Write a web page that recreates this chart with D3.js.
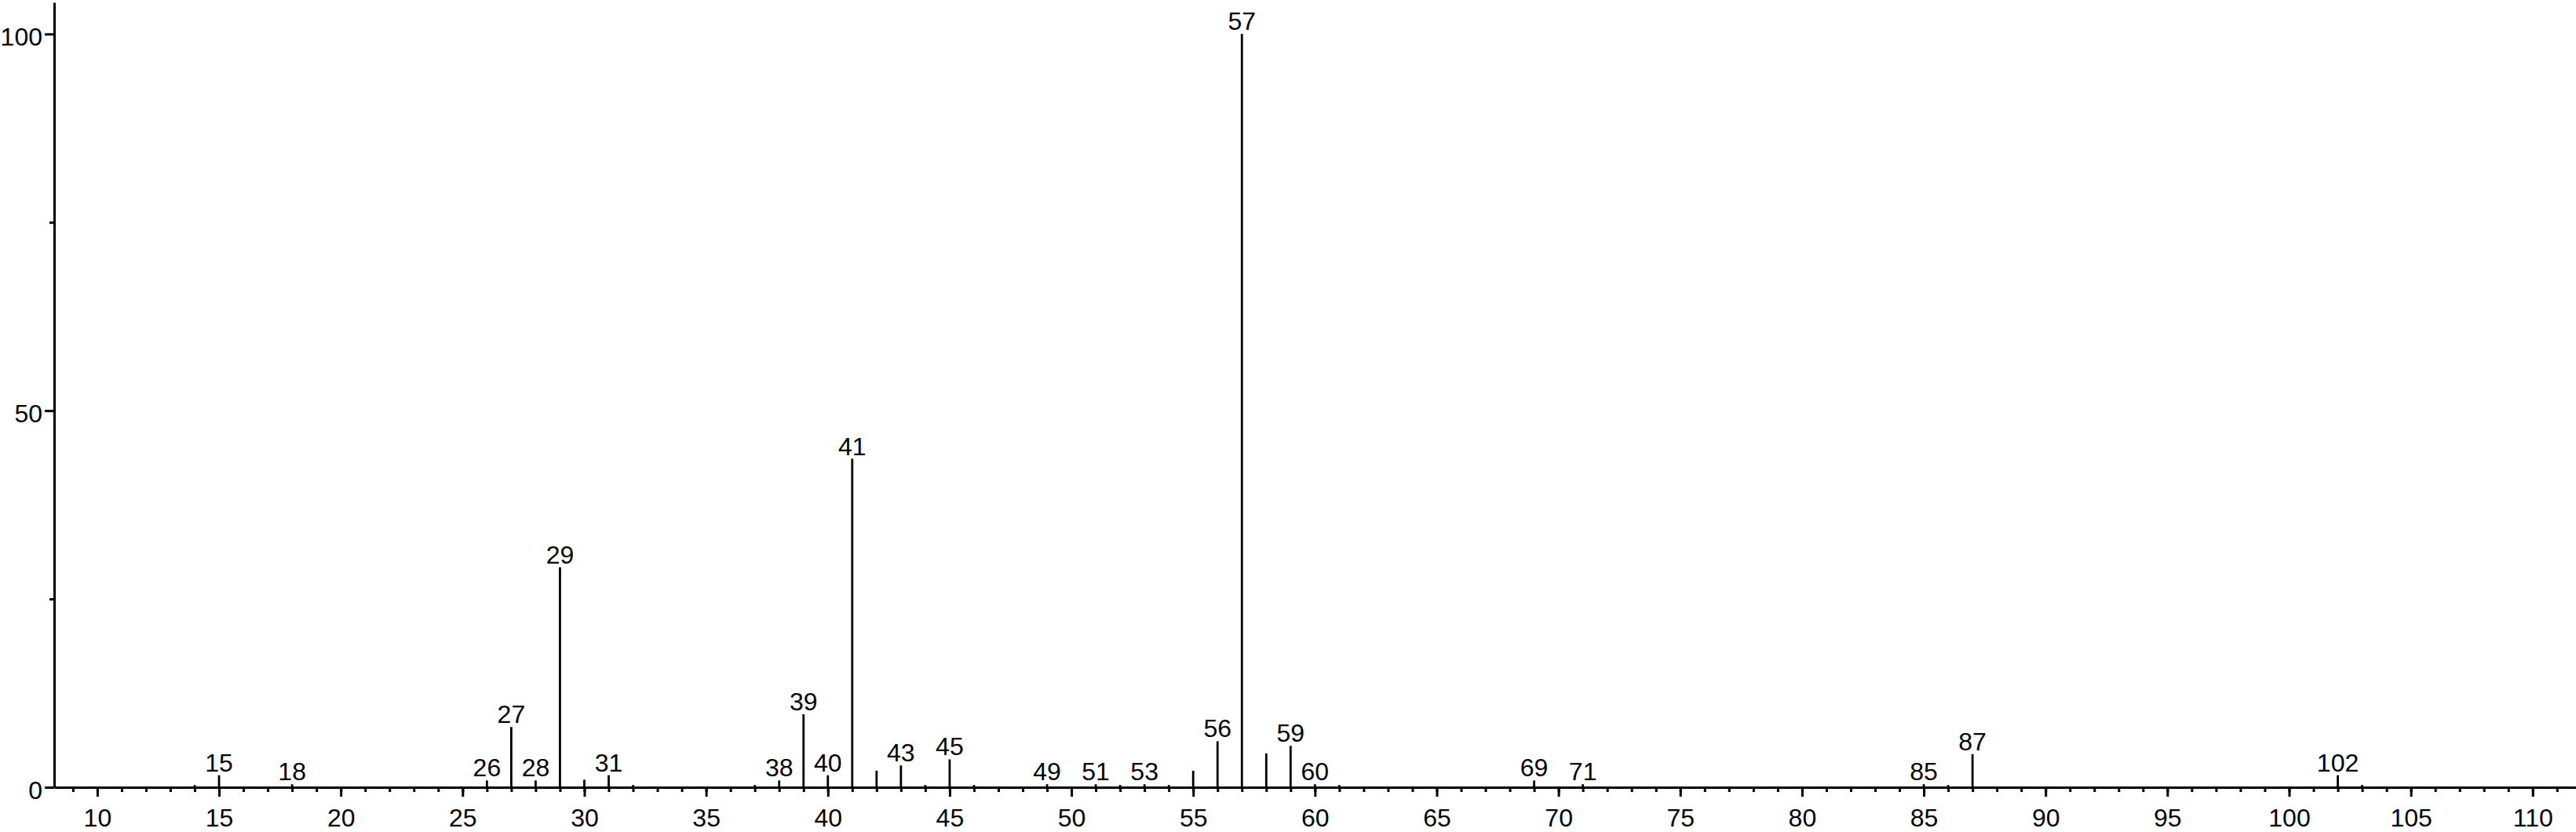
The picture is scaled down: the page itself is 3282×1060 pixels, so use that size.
<!DOCTYPE html>
<html>
<head>
<meta charset="utf-8">
<script src="https://cdn.jsdelivr.net/npm/d3@7"></script>
<style>
  html, body { margin: 0; padding: 0; background: #fff; }
  svg { display: block; }
  text { font-family: "Liberation Sans", Arial, Helvetica, sans-serif; }
</style>
</head>
<body>
<svg id="chart" width="3282" height="1060"></svg>
<script>
// m/z values of the peaks
const mz = [14, 15, 18, 26, 27, 28, 29, 30, 31, 32, 37, 38, 39, 40, 41, 42, 43, 44, 45, 46,
            49, 51, 52, 53, 54, 55, 56, 57, 58, 59, 60, 61, 69, 71, 85, 86, 87, 102, 103];
// relative intensities (%)
const intensity = [0.3, 1.6, 0.4, 0.9, 8.0, 0.9, 29.2, 1.0, 1.6, 0.3, 0.3, 0.9, 9.7, 1.6, 43.6, 2.2, 2.9, 0.3, 3.7, 0.3,
                   0.4, 0.4, 0.3, 0.4, 0.3, 2.2, 6.1, 100, 4.5, 5.5, 0.4, 0.3, 0.9, 0.4, 0.4, 0.3, 4.4, 1.6, 0.3];
// peaks that carry a label
const labeledPeaks = [15, 18, 26, 27, 28, 29, 31, 38, 39, 40, 41, 43, 45, 49, 51, 53, 56, 57, 59, 60, 69, 71, 85, 87, 102];
// axis ticks
const xMajorTicks = d3.range(10, 111, 5);
const xMinorTicks = d3.range(9, 112, 1);
const yMajorTicks = [0, 50, 100];
const yMinorTicks = [25, 75];

const peaks = mz.map((m, i) => ({ mz: m, v: intensity[i] }));

const svg = d3.select("#chart");
const W = 3282, H = 1060;
svg.append("rect").attr("width", W).attr("height", H).attr("fill", "#fff");

const x = d3.scaleLinear().domain([8.23, 111.78]).range([69, 3282]);
const y = d3.scaleLinear().domain([0, 104.2]).range([1003, 3]);

const FS = "32px";

// peaks
svg.append("g")
  .selectAll("line")
  .data(peaks)
  .join("line")
  .attr("x1", d => x(d.mz))
  .attr("x2", d => x(d.mz))
  .attr("y1", y(0))
  .attr("y2", d => y(d.v))
  .attr("stroke", "#000")
  .attr("stroke-width", 2.8);

// peak labels
svg.append("g")
  .selectAll("text")
  .data(peaks.filter(d => labeledPeaks.includes(d.mz)))
  .join("text")
  .attr("x", d => x(d.mz))
  .attr("y", d => y(d.v) - 5)
  .attr("text-anchor", "middle")
  .attr("font-size", FS)
  .attr("fill", "#000")
  .text(d => d.mz);

// x axis: minor ticks
const xMinor = svg.append("g")
  .attr("transform", `translate(0,${y(0)})`)
  .call(d3.axisBottom(x).tickValues(xMinorTicks).tickSize(6).tickSizeOuter(0).tickFormat(""));
xMinor.select(".domain").remove();

// x axis: major ticks + labels
const xMajor = svg.append("g")
  .attr("transform", `translate(0,${y(0)})`)
  .call(d3.axisBottom(x).tickValues(xMajorTicks).tickSize(12).tickSizeOuter(0).tickPadding(15));

// y axis: minor ticks
const yMinor = svg.append("g")
  .attr("transform", `translate(${x.range()[0]},0)`)
  .call(d3.axisLeft(y).tickValues(yMinorTicks).tickSize(6).tickSizeOuter(0).tickFormat(""));
yMinor.select(".domain").remove();

// y axis: major ticks + labels
const yMajor = svg.append("g")
  .attr("transform", `translate(${x.range()[0]},0)`)
  .call(d3.axisLeft(y).tickValues(yMajorTicks).tickSize(12).tickSizeOuter(0).tickPadding(3));

[xMinor, xMajor, yMinor, yMajor].forEach(g => {
  g.selectAll(".tick line").attr("stroke", "#000").attr("stroke-width", 3);
  g.selectAll(".domain").attr("stroke", "#000").attr("stroke-width", 3);
  g.selectAll("text")
    .attr("font-size", FS)
    .attr("font-family", '"Liberation Sans", Arial, Helvetica, sans-serif')
    .attr("fill", "#000");
});
yMajor.selectAll("text").attr("dy", "0.45em");
</script>
</body>
</html>
